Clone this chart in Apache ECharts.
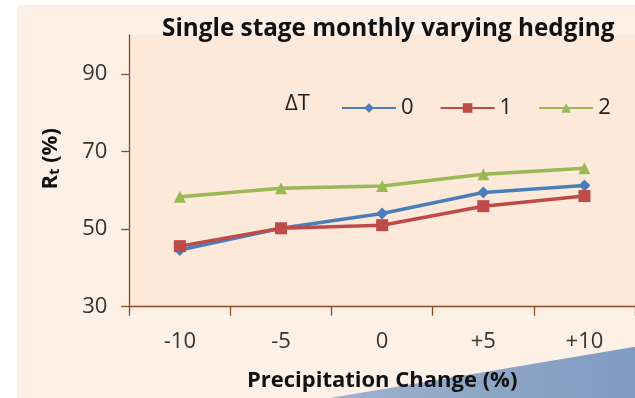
<!DOCTYPE html>
<html><head><meta charset="utf-8">
<script src="https://cdn.jsdelivr.net/npm/echarts@6/dist/echarts.min.js"></script>
<style>html,body{margin:0;padding:0;background:#fff}#c{width:635px;height:398px}</style>
</head><body><div id="c"></div>
<script>
const categories = ['-10', '-5', '0', '+5', '+10'];
const seriesNames = ['0', '1', '2'];
const dT0 = [44.6, 50.2, 54.0, 59.4, 61.2];
const dT1 = [45.6, 50.2, 51.0, 55.9, 58.5];
const dT2 = [58.3, 60.5, 61.1, 64.1, 65.7];
const yTicks = [30, 50, 70, 90];

const FONT = 'Open Sans';
const chart = echarts.init(document.getElementById('c'));
chart.setOption({
  backgroundColor: '#ffffff',
  animation: false,
  textStyle: { fontFamily: FONT },
  graphic: [
    { type: 'rect', z: -100, shape: { x: 17, y: 5, width: 640, height: 400 }, style: { fill: '#fcf0e7' } },
    { type: 'polygon', z: -50, shape: { points: [[318, 400], [640, 346], [640, 400]] },
      style: { fill: new echarts.graphic.LinearGradient(0, 0, 1, 0, [{ offset: 0, color: '#9fb3cd' }, { offset: 1, color: '#7f9bc0' }]) } }
  ],
  title: [
    { text: 'Single stage monthly varying hedging', left: 162, top: 17, padding: 0,
      textStyle: { fontFamily: FONT, fontSize: 24.3, fontWeight: 'bold', color: '#111' } },
    { text: 'ΔT', left: 285, top: 93, padding: 0,
      textStyle: { fontFamily: FONT, fontSize: 22, fontWeight: 'normal', color: '#222' } }
  ],
  legend: {
    data: seriesNames, left: 341, top: 97, padding: 0,
    itemWidth: 54, itemHeight: 12, itemGap: 26,
    textStyle: { fontFamily: FONT, fontSize: 22, color: '#222' }
  },
  grid: { left: 129.3, top: 35, width: 519, height: 271.7, show: true, backgroundColor: '#fde9d9', borderWidth: 0 },
  xAxis: {
    type: 'category', data: categories, boundaryGap: true,
    name: 'Precipitation Change (%)', nameLocation: 'middle', nameGap: 63,
    nameTextStyle: { fontFamily: FONT, fontSize: 22, fontWeight: 'bold', color: '#111' },
    axisLine: { lineStyle: { color: '#8a4b22', width: 1.3 } },
    axisTick: { show: true, length: 9, alignWithLabel: false, lineStyle: { color: '#8a4b22', width: 1.3 } },
    axisLabel: { margin: 24, fontFamily: FONT, fontSize: 22, color: '#333' },
    splitLine: { show: false }
  },
  yAxis: {
    type: 'value', min: 30, max: 100, interval: 20,
    name: '{b|R}{s|t}{b| (%)}', nameLocation: 'middle', nameGap: 67, nameRotate: 90,
    nameTextStyle: { padding: [0, 0, 0, 24], rich: {
      b: { fontFamily: FONT, fontSize: 22, fontWeight: 'bold', color: '#111' },
      s: { fontFamily: FONT, fontSize: 15, fontWeight: 'bold', color: '#111', verticalAlign: 'bottom', padding: [9, 0, 0, 0] }
    } },
    axisLine: { show: true, lineStyle: { color: '#8a4b22', width: 1.3 } },
    axisTick: { show: true, length: 8, customValues: yTicks, lineStyle: { color: '#8a4b22', width: 1.3 } },
    axisLabel: { margin: 22, fontFamily: FONT, fontSize: 22, color: '#333', customValues: yTicks },
    splitLine: { show: false }
  },
  series: [
    { name: seriesNames[0], type: 'line', data: dT0, symbol: 'diamond', symbolSize: 12,
      lineStyle: { color: '#4a7ebb', width: 3.5 }, itemStyle: { color: '#4a7ebb' }, z: 3 },
    { name: seriesNames[1], type: 'line', data: dT1, symbol: 'rect', symbolSize: 12,
      lineStyle: { color: '#be4b48', width: 3.5 }, itemStyle: { color: '#be4b48' }, z: 4 },
    { name: seriesNames[2], type: 'line', data: dT2, symbol: 'triangle', symbolSize: 12,
      lineStyle: { color: '#98b954', width: 3.5 }, itemStyle: { color: '#98b954' }, z: 5 }
  ]
});
</script></body></html>
